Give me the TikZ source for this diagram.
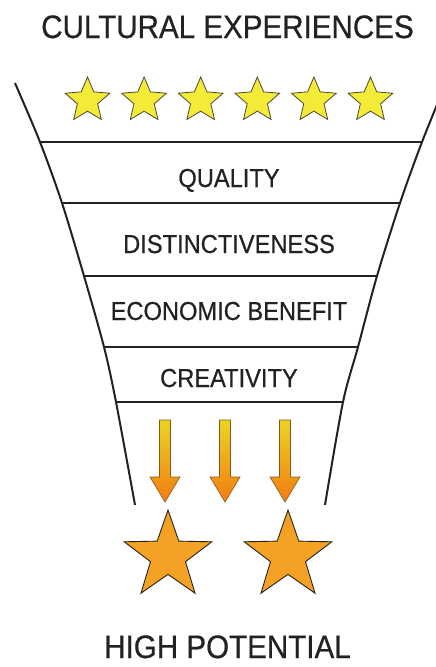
\documentclass[tikz,border=0pt]{standalone}
\usepackage{fontspec}
\setmainfont[FakeStretch=0.91, FakeBold=0.6]{Liberation Sans}
\usepackage{tikz}
\usetikzlibrary{shapes.geometric}

\definecolor{inkgray}{HTML}{222222}
\definecolor{stargray}{HTML}{4A4A38}
\definecolor{staryellow}{HTML}{F4EA38}
\definecolor{starorange}{HTML}{F5A224}
\definecolor{arrowyellow}{HTML}{EAD424}
\definecolor{arroworange}{HTML}{F27C12}
\definecolor{arrowbrown}{HTML}{8A5A1A}

\begin{document}
\begin{tikzpicture}[
    x = 1pt, y = -1pt,
    rim/.style = {line width = 2pt, draw = inkgray},
    heading/.style = {anchor = base, text = inkgray, inner sep = 0pt,
      font = \fontsize{32.5}{36}\selectfont},
    stage/.style = {anchor = base, text = inkgray, inner sep = 0pt,
      font = \fontsize{26}{30}\selectfont},
    small star/.style = {star, star points = 5, star point ratio = 2.2,
      minimum size = 47pt, inner sep = 0pt, line width = 0.8pt,
      draw = stargray, fill = staryellow},
    big star/.style = {star, star points = 5, star point ratio = 2.5,
      minimum size = 92pt, inner sep = 0pt, line width = 0.9pt,
      draw = inkgray, fill = starorange},
    drop/.style = {draw = arrowbrown, line width = 0.6pt,
      top color = arrowyellow, bottom color = arroworange}
  ]
  \useasboundingbox (0,0) rectangle (436,667);

  % funnel outline
  \coordinate (L0) at (15,83);   \coordinate (R0) at (446,83);
  \coordinate (L1) at (40,142);  \coordinate (R1) at (422,142);
  \coordinate (L2) at (62,203);  \coordinate (R2) at (400,203);
  \coordinate (L3) at (84,276);  \coordinate (R3) at (377,276);
  \coordinate (L4) at (104,347); \coordinate (R4) at (358,347);
  \coordinate (L5) at (116,402); \coordinate (R5) at (343,402);
  \coordinate (L6) at (135,505); \coordinate (R6) at (325,505);

  \draw[rim] plot[smooth, tension = 0.5]
    coordinates {(L0) (L1) (L2) (L3) (L4) (L5) (L6)};
  \draw[rim] plot[smooth, tension = 0.5]
    coordinates {(R0) (R1) (R2) (R3) (R4) (R5) (R6)};
  \foreach \k in {1,...,5}
    \draw[rim] (L\k) -- (R\k);

  % Labels
  \node[heading] (top) at (227.5,38) {CULTURAL EXPERIENCES};
  \node[stage] (quality) at (229,187) {QUALITY};
  \node[stage] (distinct) at (229,253) {DISTINCTIVENESS};
  \node[stage] (economic) at (229,320) {ECONOMIC BENEFIT};
  \node[stage] (creative) at (229,387) {CREATIVITY};
  \node[heading] (bottom) at (227.5,658) {HIGH POTENTIAL};

  % stars in and out
  \foreach \i in {0,...,5}
    \node[small star] (rating\i) at ({87.5+56.6*\i},100.5) {};
  \node[big star] (winner1) at (168,556) {};
  \node[big star] (winner2) at (288,556) {};

  % arrows
  \foreach \ax [count=\k] in {165,225,285} {
    \coordinate (drop\k) at (\ax,420);
    \path[drop] (drop\k) ++(-5.5,0) -- ++(0,57) -- ++(-9.5,0)
      -- ++(15,25) -- ++(15,-25) -- ++(-9.5,0) -- ++(0,-57) -- cycle;
  }

\end{tikzpicture}
\end{document}
